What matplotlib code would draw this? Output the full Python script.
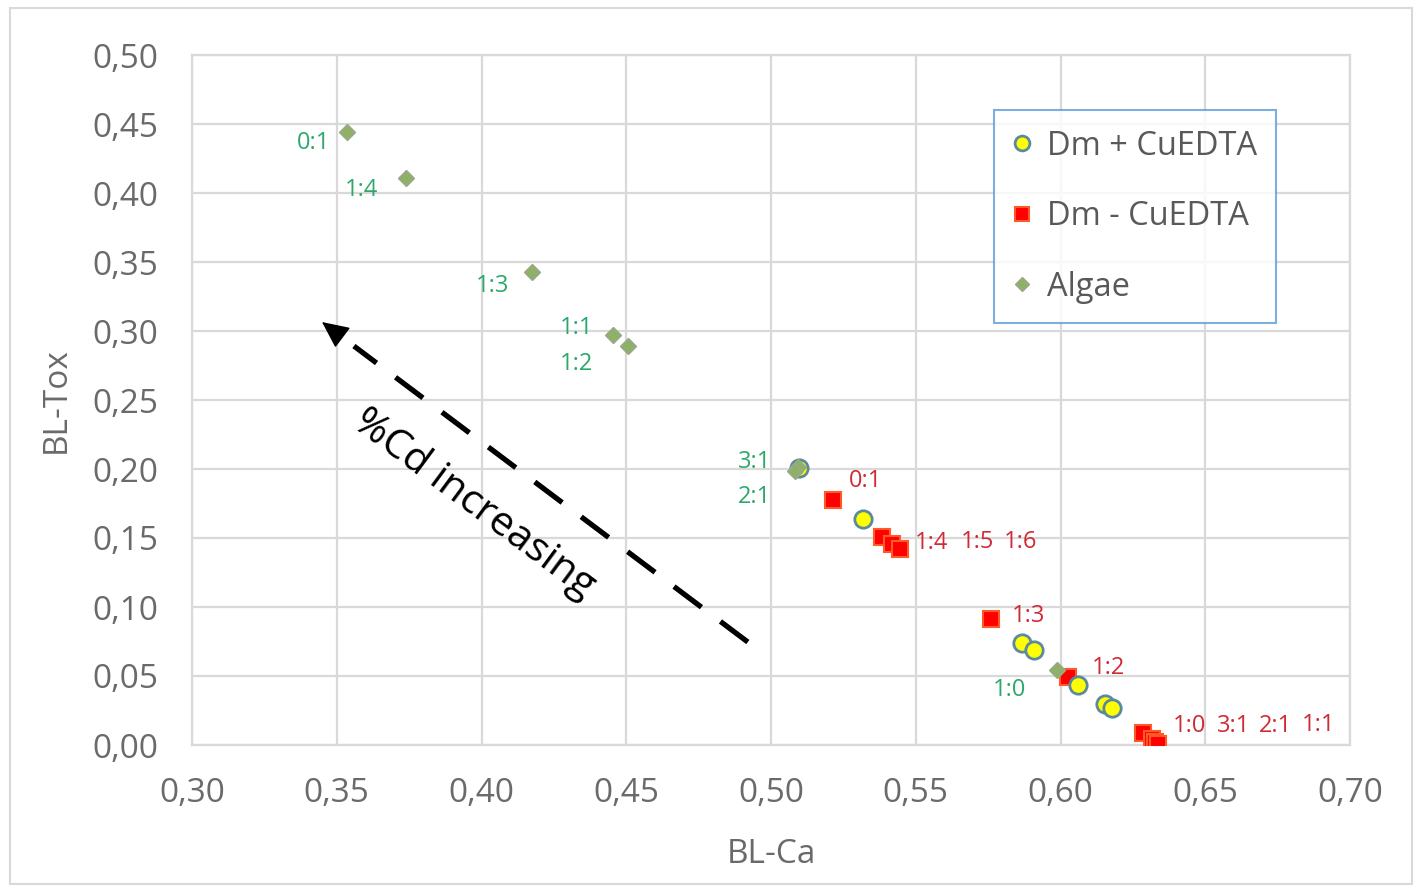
import numpy as np
import matplotlib.pyplot as plt
from matplotlib.patches import Rectangle

plt.rcParams["font.family"] = ["Open Sans", "DejaVu Sans"]

# Dm + CuEDTA (yellow circles)
dm_plus_x = [0.5095, 0.5317, 0.5866, 0.5907, 0.6060, 0.6153, 0.6177]
dm_plus_y = [0.2005, 0.1638, 0.0740, 0.0688, 0.0435, 0.0300, 0.0268]

# Dm - CuEDTA (red squares)
dm_minus_x = [0.5213, 0.5383, 0.5417, 0.5445, 0.5759, 0.6025, 0.6284, 0.6315, 0.6325, 0.6336]
dm_minus_y = [0.1775, 0.1507, 0.1460, 0.1420, 0.0913, 0.0490, 0.0087, 0.0040, 0.0020, 0.0005]
dm_minus_lbl = ["0:1", "1:4", "1:5", "1:6", "1:3", "1:2", "1:0", "3:1", "2:1", "1:1"]

# Algae (green diamonds)
algae_x = [0.3535, 0.3739, 0.4174, 0.4454, 0.4506, 0.5093, 0.5082, 0.5987]
algae_y = [0.4440, 0.4110, 0.3430, 0.2970, 0.2890, 0.2014, 0.1986, 0.0540]
algae_lbl = ["0:1", "1:4", "1:3", "1:1", "1:2", "3:1", "2:1", "1:0"]

x_ticks = [0.30, 0.35, 0.40, 0.45, 0.50, 0.55, 0.60, 0.65, 0.70]
y_ticks = [0.00, 0.05, 0.10, 0.15, 0.20, 0.25, 0.30, 0.35, 0.40, 0.45, 0.50]

# label offsets in points (layout only)
algae_off = [(-24, -8), (-32, -9), (-28, -10), (-26, 5), (-37, -13), (-31, 4), (-29, -19), (-34, -14)]
minus_off = [(24, 14), (36, -4), (62, 1), (87, 5), (27, 2), (29, 7), (34, 5), (59, 10), (87, 12), (116, 14)]

fig = plt.figure(figsize=(14.23, 8.86), dpi=100)
fig.patches.append(Rectangle((10 / 1423, 2 / 886), 1402 / 1423, 876 / 886,
                             transform=fig.transFigure, fill=False,
                             edgecolor="#d9d9d9", linewidth=1.5))
ax = fig.add_axes([192 / 1423, 141 / 886, 1158 / 1423, 690 / 886])

grid_c = "#d9d9d9"
txt_c = "#6a6a6a"
ax.set_xlim(0.30, 0.70)
ax.set_ylim(0.00, 0.50)
ax.set_xticks(x_ticks)
ax.set_yticks(y_ticks)
ax.set_xticklabels([f"{v:.2f}".replace(".", ",") for v in x_ticks])
ax.set_yticklabels([f"{v:.2f}".replace(".", ",") for v in y_ticks])
ax.grid(True, color=grid_c, linewidth=1.6)
ax.set_axisbelow(True)
for s in ax.spines.values():
    s.set_color(grid_c)
    s.set_linewidth(1.6)
ax.tick_params(length=0, labelsize=24, labelcolor=txt_c)
ax.tick_params(axis="y", pad=24)
ax.tick_params(axis="x", pad=23)

ax.set_xlabel("BL-Ca", fontsize=24, color=txt_c, labelpad=20)
ax.set_ylabel("BL-Tox", fontsize=24, color=txt_c, labelpad=14)

ax.plot(dm_plus_x, dm_plus_y, "o", ms=12.5, mfc="#ffff00", mec="#5b8a9c",
        mew=2, label="Dm + CuEDTA", zorder=4)
ax.plot(dm_minus_x, dm_minus_y, "s", ms=11.5, mfc="#ff0000", mec="#ff5a28",
        mew=1.5, label="Dm - CuEDTA", zorder=3)
ax.plot(algae_x, algae_y, "D", ms=8.5, mfc="#8fb069", mec="#9aa88a",
        mew=1, label="Algae", zorder=5)

for x, y, t, o in zip(algae_x, algae_y, algae_lbl, algae_off):
    ax.annotate(t, (x, y), xytext=o, textcoords="offset points",
                ha="center", va="center", fontsize=17, color="#2ea86a", zorder=6)
for x, y, t, o in zip(dm_minus_x, dm_minus_y, dm_minus_lbl, minus_off):
    ax.annotate(t, (x, y), xytext=o, textcoords="offset points",
                ha="center", va="center", fontsize=17, color="#d02a35", zorder=6)

# arrow showing direction of increasing Cd: dashed shaft + solid head
tail = (0.492, 0.0746)
tip = (0.3449, 0.3065)


def along(f):
    return (tip[0] + f * (tail[0] - tip[0]), tip[1] + f * (tail[1] - tip[1]))


neck = along(0.075)
ax.plot([tail[0], neck[0]], [tail[1], neck[1]], color="black", lw=3.8,
        linestyle=(0, (6.5, 4.5)), solid_capstyle="butt", zorder=6)
ax.annotate("", xy=tip, xytext=along(0.01),
            arrowprops=dict(arrowstyle="-|>,head_length=1.7,head_width=0.8",
                            color="black", lw=1, shrinkA=0, shrinkB=0),
            zorder=6)
ax.text(0.3975, 0.1745, "%Cd increasing", rotation=-36.5, rotation_mode="anchor",
        ha="center", va="center", fontsize=29.5, color="black")

leg = ax.legend(loc="upper left", bbox_to_anchor=(0.693, 0.92), fontsize=23.5,
                frameon=True, fancybox=False, edgecolor="#5b9bd5",
                handlelength=0.5, handletextpad=0.5, labelspacing=1.15,
                borderpad=0.6, borderaxespad=0, markerscale=0.85)
leg.get_frame().set_linewidth(1.5)
for t in leg.get_texts():
    t.set_color("#595959")

fig.savefig("out.png", dpi=100)
